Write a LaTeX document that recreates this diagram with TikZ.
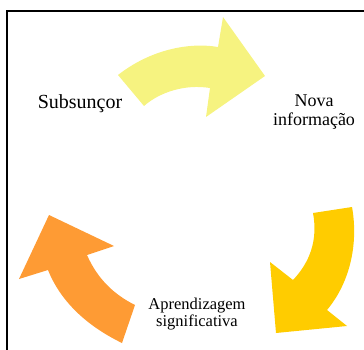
\documentclass[tikz,border=0pt]{standalone}
\usepackage{fontspec}
\setmainfont{Liberation Serif}
\usepackage{tikz}
\usetikzlibrary{positioning}
\definecolor{paleyellow}{RGB}{246,243,128}
\definecolor{goldyellow}{RGB}{255,204,0}
\definecolor{softorange}{RGB}{254,155,52}
\tikzstyle{cyclearrow} = [draw=none]
\tikzstyle{stagetext} = [align=center, inner sep=0pt, anchor=base]

\begin{document}
\begin{tikzpicture}[x=1pt, y=-1pt]
    \useasboundingbox (0,0) rectangle (364,350);

    % Frame
    \draw[line width=2pt] (364,11.3) -- (7.3,11.3) -- (7.3,350);

    % Arrow: subsuncor -> nova informacao
    \fill[cyclearrow, paleyellow] (118,75) .. controls (150,50) and (188,42) .. (218,47)
        -- (223,17) -- (265,76) -- (206,117) -- (210,88)
        .. controls (185,84) and (160,92) .. (144,106) -- cycle;

    % Arrow: nova informacao -> aprendizagem
    \fill[cyclearrow, goldyellow] (352,207) .. controls (358,240) and (352,280) .. (327,310)
        -- (347,326) -- (276,333) -- (270,262) -- (293,280)
        .. controls (310,262) and (318,240) .. (313,213) -- cycle;

    % Arrow: aprendizagem -> subsuncor
    \fill[cyclearrow, softorange] (122,343) .. controls (85,325) and (60,300) .. (48,270)
        -- (19,279) -- (49,215) -- (114,246) -- (87,255)
        .. controls (98,280) and (115,295) .. (135,305) -- cycle;

    % Stages
    \node[stagetext, font=\fontsize{20}{22}\selectfont] (subsuncor) at (80,109) {Subsunçor};
    \node[stagetext, font=\fontsize{18}{18}\selectfont] (nova) at (314,125) {Nova\\informação};
    \node[stagetext, font=\fontsize{16.5}{17}\selectfont] (aprend) at (197,326) {Aprendizagem\\significativa};
\end{tikzpicture}
\end{document}
